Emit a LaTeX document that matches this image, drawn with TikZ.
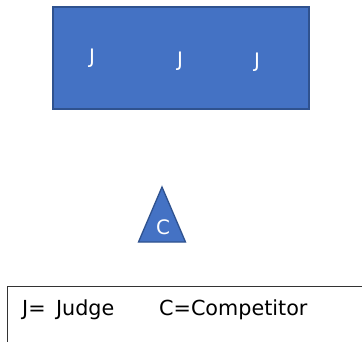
\documentclass[tikz,border=0pt]{standalone}
\usepackage{fontspec}
\setmainfont{DejaVu Sans}
\definecolor{officeblue}{HTML}{4472C4}
\definecolor{officeedge}{HTML}{2F528F}
\begin{document}
\begin{tikzpicture}[x=1bp,y=-1bp,
  shapefill/.style={fill=officeblue,draw=officeedge,line width=1.3bp},
  whitelbl/.style={text=white,inner sep=0pt,anchor=base,font=\fontsize{20}{23}\selectfont},
  legendlbl/.style={inner sep=0pt,anchor=base west,font=\fontsize{20.8}{24}\selectfont}]
\useasboundingbox (0,0) rectangle (362,342);
\fill[white] (0,0) rectangle (362,342);
% judges' table
\draw[shapefill] (53,7) rectangle (309,109);
\node[whitelbl] (j1) at (92,63) {J};
\node[whitelbl] (j2) at (180,66) {J};
\node[whitelbl] (j3) at (257,67) {J};
% competitor
\draw[shapefill] (162,187) -- (185.5,242) -- (138.5,242) -- cycle;
\node[whitelbl] (c) at (163,234) {C};
% legend
\draw[black!80,line width=1bp] (7,380) -- (7,286) -- (380,286);
\node[legendlbl] (lj) at (22,315) {J=\hspace{0.5em}Judge};
\node[legendlbl] (lc) at (159,315) {C=Competitor};
\end{tikzpicture}
\end{document}
